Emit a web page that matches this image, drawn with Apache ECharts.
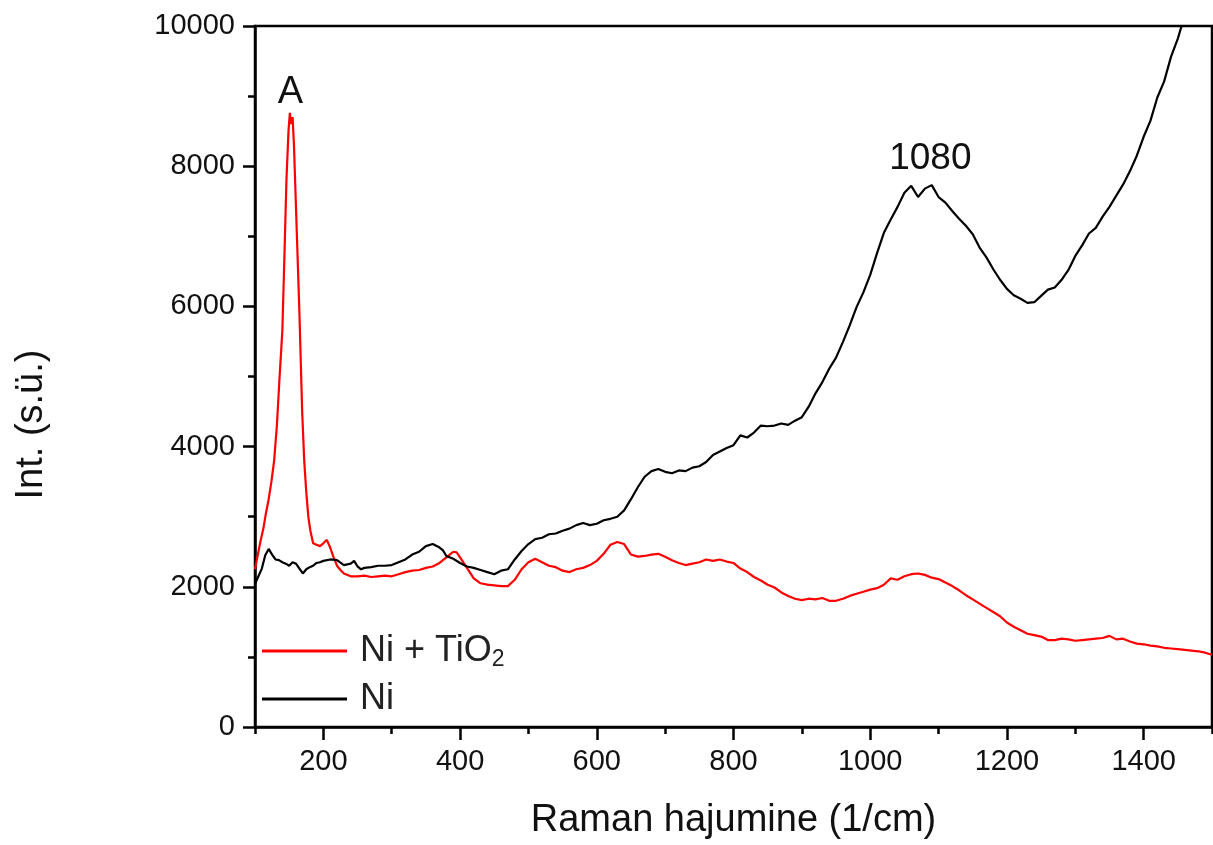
<!DOCTYPE html>
<html>
<head>
<meta charset="utf-8">
<script src="https://cdn.jsdelivr.net/npm/echarts@6/dist/echarts.min.js"></script>
<style>
  html, body { margin: 0; padding: 0; background: #fff; }
  #chart { width: 1213px; height: 845px; }
</style>
</head>
<body>
<div id="chart"></div>
<script>
// Ni + TiO2 (red)
var niTiO2Shift = [100,104,108,112,116,120,124,128,132,136,140,143,146,149,151,153,155,157,159,161,163,165,167,169,172,175,178,181,185,190,195,200,205,210,215,220,225,230,240,250,260,270,280,290,300,310,320,330,340,350,360,370,380,390,395,400,410,420,430,440,450,460,470,480,490,500,510,520,530,540,550,560,570,580,590,600,610,620,630,640,650,660,670,680,690,700,710,720,730,740,750,760,770,780,790,800,810,820,830,840,850,860,870,880,890,900,910,920,930,940,950,960,970,980,990,1000,1010,1020,1030,1040,1050,1060,1070,1080,1090,1100,1110,1120,1130,1140,1150,1160,1170,1180,1190,1200,1210,1220,1230,1240,1250,1260,1270,1280,1290,1300,1310,1320,1330,1340,1350,1360,1370,1380,1390,1400,1410,1420,1430,1440,1450,1460,1470,1480,1490,1500];
var niTiO2Int = [2250,2450,2650,2820,3050,3250,3500,3800,4300,5000,5650,6700,7800,8500,8760,8600,8700,8300,7700,7100,6500,5900,5200,4500,3800,3350,3000,2800,2620,2600,2580,2620,2670,2560,2420,2300,2240,2190,2150,2150,2160,2140,2150,2160,2150,2180,2210,2230,2240,2270,2290,2340,2420,2500,2490,2420,2270,2120,2050,2030,2020,2010,2010,2100,2250,2350,2400,2350,2300,2280,2230,2210,2250,2270,2310,2370,2470,2600,2640,2610,2460,2430,2440,2460,2470,2430,2380,2340,2310,2330,2350,2390,2370,2390,2360,2340,2260,2210,2140,2090,2030,1990,1920,1870,1830,1810,1830,1820,1840,1800,1800,1830,1870,1900,1930,1960,1980,2030,2120,2100,2150,2180,2190,2170,2130,2110,2060,2010,1950,1880,1820,1760,1700,1640,1580,1490,1430,1380,1330,1310,1290,1240,1240,1260,1250,1230,1240,1250,1260,1270,1300,1250,1260,1220,1190,1180,1160,1150,1130,1120,1110,1100,1090,1080,1060,1030];

// Ni (black)
var niShift = [100,105,110,115,120,125,130,135,140,145,150,155,160,165,170,175,180,185,190,195,200,210,220,230,240,245,250,255,260,270,280,290,300,310,320,330,340,350,360,370,375,380,390,400,410,420,430,440,450,460,470,480,490,500,510,520,530,540,550,560,570,580,590,600,610,620,630,640,650,660,670,680,690,700,710,720,730,740,750,760,770,780,790,800,810,820,830,840,850,860,870,880,890,900,910,920,930,940,950,960,970,980,990,1000,1010,1020,1030,1040,1050,1060,1070,1080,1090,1100,1110,1120,1130,1140,1150,1160,1170,1180,1190,1200,1210,1220,1230,1240,1250,1260,1270,1280,1290,1300,1310,1320,1330,1340,1350,1360,1370,1380,1390,1400,1410,1420,1430,1440,1450,1460,1470];
var niInt = [2040,2150,2260,2450,2540,2460,2390,2380,2350,2330,2300,2350,2330,2260,2190,2250,2280,2300,2340,2350,2370,2390,2380,2310,2330,2370,2290,2250,2270,2280,2300,2300,2310,2350,2390,2460,2500,2580,2610,2560,2520,2440,2400,2340,2290,2270,2240,2210,2180,2230,2250,2390,2510,2610,2680,2700,2750,2760,2800,2830,2880,2910,2880,2900,2950,2970,3000,3090,3250,3420,3570,3650,3680,3640,3620,3660,3650,3700,3720,3780,3880,3930,3980,4020,4160,4130,4200,4300,4290,4300,4330,4310,4370,4420,4570,4760,4920,5110,5270,5490,5730,5990,6200,6450,6760,7050,7240,7420,7620,7720,7560,7680,7730,7560,7480,7360,7250,7150,7030,6840,6700,6530,6380,6250,6160,6110,6050,6060,6150,6240,6270,6380,6520,6720,6870,7040,7120,7280,7420,7580,7740,7930,8150,8420,8650,8980,9210,9560,9820,10150,10500];

var xMajorTicks = [200,400,600,800,1000,1200,1400];
var xMinorTicks = [100,300,500,700,900,1100,1300,1500];

function pairs(xs, ys) {
    return xs.map(function(x, i) { return [x, ys[i]]; });
}

// plain numbers, no thousands separator
function plain(v) {
    return String(v);
}

var chart = echarts.init(document.getElementById('chart'));

var font = 'Liberation Sans, Arial, sans-serif';

var option = {
    animation: false,
    backgroundColor: '#fff',
    grid: {
        left: 255, right: 1, top: 26, bottom: 114,
        show: true, borderColor: '#000', borderWidth: 2.5
    },
    legend: {
        orient: 'vertical',
        left: 262,
        top: 631,
        padding: 0,
        itemWidth: 85,
        itemHeight: 3,
        itemGap: 8,
        icon: 'rect',
        data: ['Ni + TiO2', 'Ni'],
        formatter: function(name) {
            return name === 'Ni + TiO2' ? 'Ni + TiO{sub|2}' : name;
        },
        textStyle: {
            fontFamily: font, fontSize: 36, color: '#222', lineHeight: 40,
            padding: [0, 0, 0, 8],
            rich: {
                sub: { fontFamily: font, fontSize: 23, color: '#222', verticalAlign: 'bottom', padding: [12, 0, 0, 0] }
            }
        }
    },
    xAxis: [{
        type: 'value',
        min: 100, max: 1500,
        position: 'bottom',
        name: 'Raman hajumine (1/cm)',
        nameLocation: 'middle',
        nameGap: 75,
        nameTextStyle: { fontFamily: font, fontSize: 38, color: '#111' },
        axisLine: { show: true, lineStyle: { color: '#000', width: 2.5 } },
        axisTick: { show: true, inside: false, length: 13, lineStyle: { width: 2.5, color: '#000' }, customValues: xMajorTicks },
        axisLabel: { fontFamily: font, fontSize: 29, color: '#111', margin: 20, customValues: xMajorTicks, formatter: plain },
        splitLine: { show: false }
    }, {
        type: 'value',
        min: 100, max: 1500,
        position: 'bottom',
        axisLine: { show: false },
        axisTick: { show: true, length: 7, lineStyle: { width: 2.5, color: '#000' }, customValues: xMinorTicks },
        axisLabel: { show: false },
        splitLine: { show: false }
    }],
    yAxis: {
        type: 'value',
        min: 0, max: 10000, interval: 2000,
        name: 'Int. (s.ü.)',
        nameLocation: 'middle',
        nameGap: 204,
        nameRotate: 90,
        nameTextStyle: { fontFamily: font, fontSize: 38, color: '#111', padding: [0, 96, 0, 0] },
        axisLine: { show: true, lineStyle: { color: '#000', width: 2.5 } },
        axisTick: { show: true, inside: false, length: 12, lineStyle: { width: 2.5, color: '#000' } },
        minorTick: { show: true, splitNumber: 2, length: 7, lineStyle: { width: 2.5, color: '#000' } },
        axisLabel: { fontFamily: font, fontSize: 29, color: '#111', margin: 20, formatter: plain },
        splitLine: { show: false }
    },
    series: [{
        name: 'Ni + TiO2',
        type: 'line',
        data: pairs(niTiO2Shift, niTiO2Int),
        showSymbol: false,
        clip: true,
        lineStyle: { color: '#ff0000', width: 2.2 },
        itemStyle: { color: '#ff0000' },
        markPoint: {
            symbol: 'circle', symbolSize: 0,
            data: [{ coord: [152, 8760], value: 'A' }],
            label: { show: true, formatter: 'A', position: 'inside', offset: [0, -20], fontFamily: font, fontSize: 38, color: '#111' }
        }
    }, {
        name: 'Ni',
        type: 'line',
        data: pairs(niShift, niInt),
        showSymbol: false,
        clip: true,
        lineStyle: { color: '#000', width: 2.2 },
        itemStyle: { color: '#000' },
        markPoint: {
            symbol: 'circle', symbolSize: 0,
            data: [{ coord: [1088, 7700], value: '1080' }],
            label: { show: true, formatter: '1080', position: 'inside', offset: [0, -28], fontFamily: font, fontSize: 37, color: '#111' }
        }
    }]
};

chart.setOption(option);
</script>
</body>
</html>
